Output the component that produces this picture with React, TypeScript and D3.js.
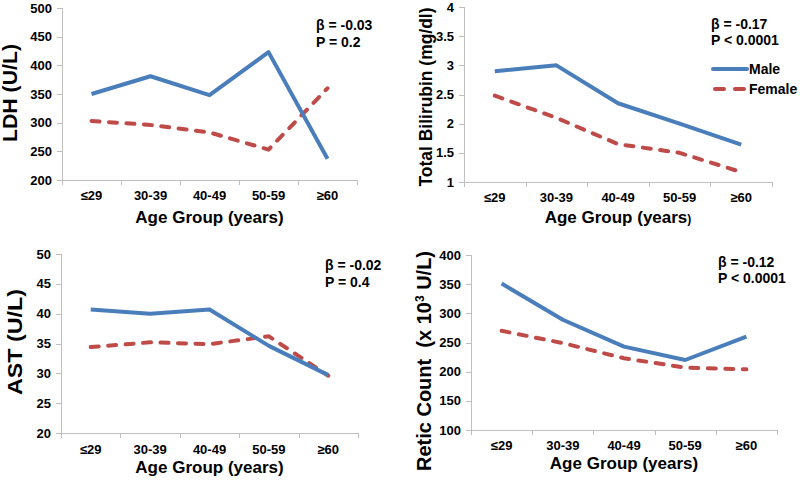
import React from 'react';
import * as d3 from 'd3';

const ageGroups = ['≤29', '30-39', '40-49', '50-59', '≥60'];

const ldhMale = [350, 381, 348, 423, 237];
const ldhFemale = [303, 296, 283, 253, 360];
const ldhTicks = [200, 250, 300, 350, 400, 450, 500];

const biliMale = [2.9, 3.0, 2.35, 2.0, 1.64];
const biliFemale = [2.48, 2.1, 1.65, 1.5, 1.17];
const biliTicks = [1, 1.5, 2, 2.5, 3, 3.5, 4];

const astMale = [40.7, 40.0, 40.7, 34.6, 29.7];
const astFemale = [34.4, 35.2, 34.9, 36.2, 29.6];
const astTicks = [20, 25, 30, 35, 40, 45, 50];

const reticMale = [351, 289, 243, 220, 260];
const reticFemale = [270, 249, 223, 207, 204];
const reticTicks = [100, 150, 200, 250, 300, 350, 400];

const seriesNames = ['Male', 'Female'];

const BLUE = '#4A7EBB';
const RED = '#BE4B48';
const AXIS = '#BFBFBF';
const FONT = '"Liberation Sans", Arial, sans-serif';
const DASH = '8 9.5';

type PanelProps = {
  male: number[];
  female: number[];
  ticks: number[];
  x0: number;
  x1: number;
  yTop: number;
  yBot: number;
  yTitle: React.ReactNode;
  yTitleX: number;
  yTitleY: number;
  yTitleLen?: number;
  yTitleSize: number;
  xTitleY: number;
  catY: number;
  statX: number;
  statY1: number;
  statY2: number;
  beta: string;
  p: string;
  smallParen?: boolean;
  legend?: { x: number; y1: number; y2: number };
};

function Panel(props: PanelProps) {
  const {
    male, female, ticks, x0, x1, yTop, yBot, yTitle, yTitleX, yTitleY, yTitleLen,
    yTitleSize, xTitleY, catY, statX, statY1, statY2, beta, p, smallParen, legend,
  } = props;
  const x = d3.scaleBand<string>().domain(ageGroups).range([x0, x1]).padding(0);
  const y = d3.scaleLinear().domain([ticks[0], ticks[ticks.length - 1]]).range([yBot, yTop]);
  const cx = (i: number) => (x(ageGroups[i]) as number) + x.bandwidth() / 2;
  const line = d3.line<number>().x((_, i) => cx(i)).y((d) => y(d));
  const boundaries = ageGroups.map((g) => x(g) as number).concat([x1]);
  const xMid = (x0 + x1) / 2;
  return (
    <g fontFamily={FONT} fontWeight="bold" fill="#000">
      <line x1={x0 + 0.5} x2={x0 + 0.5} y1={yTop} y2={yBot} stroke={AXIS} strokeWidth={1} />
      <line x1={x0} x2={x1} y1={yBot + 0.5} y2={yBot + 0.5} stroke={AXIS} strokeWidth={1} />
      {ticks.map((t) => (
        <g key={t}>
          <line x1={x0 - 5} x2={x0} y1={Math.round(y(t)) + 0.5} y2={Math.round(y(t)) + 0.5} stroke={AXIS} />
          <text x={x0 - 10} y={y(t)} dy="0.35em" textAnchor="end" fontSize={13}>
            {String(t)}
          </text>
        </g>
      ))}
      {boundaries.map((b, i) => (
        <line key={i} x1={Math.round(b) + 0.5} x2={Math.round(b) + 0.5} y1={yBot} y2={yBot + 5} stroke={AXIS} />
      ))}
      {ageGroups.map((g, i) => (
        <text key={g} x={cx(i)} y={catY} textAnchor="middle" fontSize={13}>
          {g}
        </text>
      ))}
      <text x={xMid} y={xTitleY} textAnchor="middle" fontSize={17}>
        {smallParen ? (
          <>
            Age Group (years<tspan fontSize={12}>)</tspan>
          </>
        ) : (
          'Age Group (years)'
        )}
      </text>
      <text
        transform={`translate(${yTitleX},${yTitleY}) rotate(-90)`}
        textAnchor="middle"
        fontSize={yTitleSize}
        textLength={yTitleLen}
        lengthAdjust={yTitleLen ? 'spacingAndGlyphs' : undefined}
      >
        {yTitle}
      </text>
      <path d={line(female) || ''} fill="none" stroke={RED} strokeWidth={4} strokeDasharray={DASH} strokeLinecap="round" strokeLinejoin="round" />
      <path d={line(male) || ''} fill="none" stroke={BLUE} strokeWidth={4} strokeLinejoin="round" />
      <text x={statX} y={statY1} fontSize={14}>{beta}</text>
      <text x={statX} y={statY2} fontSize={14}>{p}</text>
      {legend && (
        <g>
          <line x1={legend.x} x2={legend.x + 34} y1={legend.y1} y2={legend.y1} stroke={BLUE} strokeWidth={4} strokeLinecap="round" />
          <text x={legend.x + 36} y={legend.y1} dy="0.36em" fontSize={14}>{seriesNames[0]}</text>
          <line x1={legend.x + 2} x2={legend.x + 34} y1={legend.y2} y2={legend.y2} stroke={RED} strokeWidth={4} strokeDasharray="9 11" strokeLinecap="round" />
          <text x={legend.x + 36} y={legend.y2} dy="0.36em" fontSize={14}>{seriesNames[1]}</text>
        </g>
      )}
    </g>
  );
}

export default function App() {
  return (
    <svg
      width={800}
      height={480}
      viewBox="0 0 800 480"
      style={{ position: 'absolute', left: 0, top: 0, background: '#fff' }}
    >
      <rect width={800} height={480} fill="#fff" />
      <Panel
        male={ldhMale}
        female={ldhFemale}
        ticks={ldhTicks}
        x0={62}
        x1={357}
        yTop={8}
        yBot={180}
        yTitle="LDH (U/L)"
        yTitleX={17}
        yTitleY={93}
        yTitleLen={98}
        yTitleSize={19.5}
        xTitleY={223}
        catY={200}
        statX={316}
        statY1={30}
        statY2={46.5}
        beta="β = -0.03"
        p="P = 0.2"
      />
      <Panel
        male={biliMale}
        female={biliFemale}
        ticks={biliTicks}
        x0={464}
        x1={772}
        yTop={7}
        yBot={182}
        yTitle="Total Bilirubin (mg/dl)"
        yTitleX={432}
        yTitleY={97}
        yTitleLen={179}
        yTitleSize={18}
        xTitleY={223}
        catY={202}
        statX={711}
        statY1={28.5}
        statY2={44.5}
        beta="β = -0.17"
        p="P < 0.0001"
        smallParen
        legend={{ x: 713, y1: 69, y2: 89 }}
      />
      <Panel
        male={astMale}
        female={astFemale}
        ticks={astTicks}
        x0={61}
        x1={358}
        yTop={254}
        yBot={433}
        yTitle="AST (U/L)"
        yTitleX={22}
        yTitleY={342}
        yTitleLen={106}
        yTitleSize={20}
        xTitleY={473}
        catY={454}
        statX={325}
        statY1={270}
        statY2={287}
        beta="β = -0.02"
        p="P = 0.4"
      />
      <Panel
        male={reticMale}
        female={reticFemale}
        ticks={reticTicks}
        x0={471}
        x1={777}
        yTop={255}
        yBot={430}
        yTitle={
          <>
            {'Retic Count\u00A0 (x 10'}
            <tspan fontSize={12} dy={-7}>3</tspan>
            <tspan dy={7}>{' U/L)'}</tspan>
          </>
        }
        yTitleX={431}
        yTitleY={361}
        yTitleSize={20}
        xTitleY={469}
        catY={450}
        statX={718}
        statY1={266.5}
        statY2={283}
        beta="β = -0.12"
        p="P < 0.0001"
      />
    </svg>
  );
}
